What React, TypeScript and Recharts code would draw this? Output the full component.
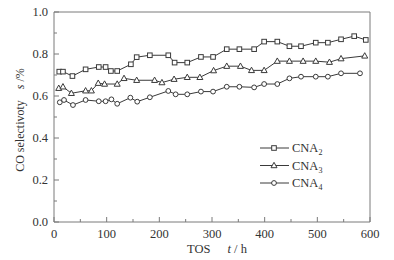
import React from 'react'
import { LineChart, Line, XAxis, YAxis, ReferenceLine } from "recharts";

// time on stream (h) and CO selectivity for each catalyst
const tosCNA2 = [10, 17, 35, 60, 85, 98, 108, 120, 146, 157, 182, 217, 229, 253, 279, 302, 328, 352, 380, 399, 424, 447, 469, 497, 520, 545, 570, 592];
const selCNA2 = [0.716, 0.716, 0.695, 0.727, 0.738, 0.738, 0.719, 0.719, 0.751, 0.785, 0.794, 0.794, 0.759, 0.759, 0.786, 0.786, 0.823, 0.823, 0.823, 0.859, 0.859, 0.837, 0.837, 0.854, 0.854, 0.870, 0.885, 0.867];

const tosCNA3 = [9, 17, 33, 60, 71, 84, 96, 120, 133, 157, 191, 205, 228, 253, 277, 303, 328, 354, 375, 399, 424, 447, 473, 497, 523, 545, 590];
const selCNA3 = [0.637, 0.644, 0.613, 0.625, 0.625, 0.661, 0.657, 0.657, 0.684, 0.675, 0.675, 0.664, 0.680, 0.689, 0.689, 0.721, 0.742, 0.742, 0.722, 0.722, 0.766, 0.766, 0.766, 0.766, 0.761, 0.778, 0.791];

const tosCNA4 = [11, 19, 36, 60, 85, 98, 109, 120, 145, 158, 182, 217, 231, 253, 279, 302, 328, 352, 380, 399, 424, 447, 469, 497, 520, 545, 581];
const selCNA4 = [0.570, 0.581, 0.557, 0.581, 0.575, 0.575, 0.584, 0.563, 0.592, 0.573, 0.594, 0.624, 0.608, 0.608, 0.621, 0.621, 0.644, 0.644, 0.641, 0.657, 0.657, 0.684, 0.692, 0.692, 0.692, 0.708, 0.708];

const xTicks = [0, 50, 100, 150, 200, 250, 300, 350, 400, 450, 500, 550, 600];
const yTicks = [0, 0.1, 0.2, 0.3, 0.4, 0.5, 0.6, 0.7, 0.8, 0.9, 1.0];

const FONT = "'Liberation Serif', 'Times New Roman', serif";
const AXIS = "#7a7a7a";
const INK = "#3a3a3a";
const TEXT = "#333";

const toRows = (tos: number[], sel: number[]) => tos.map((t, i) => ({ t, s: sel[i] }));

type MarkerKind = "square" | "triangle" | "circle";

function Marker({ cx, cy, kind }: { cx: number; cy: number; kind: MarkerKind }) {
    if (cx == null || cy == null) return null;
    if (kind === "square")
        return <rect x={cx - 2.3} y={cy - 2.3} width={4.6} height={4.6} fill="#fff" stroke={INK} strokeWidth={1} />;
    if (kind === "triangle")
        return <polygon points={`${cx},${cy - 3.2} ${cx - 3},${cy + 2.2} ${cx + 3},${cy + 2.2}`} fill="#fff" stroke={INK} strokeWidth={1} />;
    return <circle cx={cx} cy={cy} r={2.4} fill="#fff" stroke={INK} strokeWidth={1} />;
}

const series = [
    { name: "CNA", sub: "2", kind: "square" as MarkerKind, data: toRows(tosCNA2, selCNA2) },
    { name: "CNA", sub: "3", kind: "triangle" as MarkerKind, data: toRows(tosCNA3, selCNA3) },
    { name: "CNA", sub: "4", kind: "circle" as MarkerKind, data: toRows(tosCNA4, selCNA4) },
];

function XTick({ x, y, payload }: any) {
    const major = payload.value % 100 === 0;
    return (
        <g>
            <line x1={x} y1={y} x2={x} y2={y - (major ? 5 : 3)} stroke={AXIS} />
            {major && (
                <text x={x} y={y + 16} textAnchor="middle" fontSize={12.5} fontFamily={FONT} fill={TEXT}>
                    {payload.value}
                </text>
            )}
        </g>
    );
}

function YTick({ x, y, payload }: any) {
    const major = Math.round(payload.value * 10) % 2 === 0;
    return (
        <g>
            <line x1={x} y1={y} x2={x + (major ? 5 : 3)} y2={y} stroke={AXIS} />
            {major && (
                <text x={x - 6} y={y + 4} textAnchor="end" fontSize={12.5} fontFamily={FONT} fill={TEXT}>
                    {payload.value.toFixed(1)}
                </text>
            )}
        </g>
    );
}

function LegendBox() {
    return (
        <svg width={90} height={60} style={{ position: "absolute", left: 258, top: 141 }}>
            {series.map((s, i) => {
                const y = 7 + i * 17.5;
                return (
                    <g key={s.sub}>
                        <line x1={2} y1={y} x2={31} y2={y} stroke={INK} />
                        <Marker cx={16} cy={y} kind={s.kind} />
                        <text x={34} y={y + 4} fontSize={12.5} fontFamily={FONT} fill={TEXT}>
                            {s.name}
                            <tspan fontSize={8} dy={3}>{s.sub}</tspan>
                        </text>
                    </g>
                );
            })}
        </svg>
    );
}

export default function App() {
    return (
        <div style={{ position: "absolute", left: 0, top: 0, width: 394, height: 260, background: "#fff" }}>
            <LineChart width={394} height={260} margin={{ top: 12, right: 24, left: 10, bottom: 18 }}>
                <XAxis
                    dataKey="t"
                    type="number"
                    domain={[0, 600]}
                    ticks={xTicks}
                    interval={0}
                    height={20}
                    tickSize={0}
                    tickMargin={0}
                    tickLine={false}
                    stroke={AXIS}
                    tick={<XTick />}
                    allowDuplicatedCategory={false}
                    label={{
                        content: () => (
                            <text x={217} y={253} textAnchor="middle" fontSize={12.5} fontFamily={FONT} fill={TEXT}>
                                TOS
                                <tspan dx={17} fontStyle="italic">t</tspan>
                                <tspan> / h</tspan>
                            </text>
                        ),
                    }}
                />
                <YAxis
                    type="number"
                    domain={[0, 1]}
                    ticks={yTicks}
                    interval={0}
                    width={44}
                    tickSize={0}
                    tickMargin={0}
                    tickLine={false}
                    stroke={AXIS}
                    tick={<YTick />}
                    label={{
                        content: () => (
                            <text x={21} y={120} transform="rotate(-90 21 120)" textAnchor="middle" dominantBaseline="middle" fontSize={12} fontFamily={FONT} fill={TEXT}>
                                CO selectivoty
                                <tspan dx={11} fontStyle="italic">s</tspan>
                                <tspan> /%</tspan>
                            </text>
                        ),
                    }}
                />
                <ReferenceLine y={1} stroke={AXIS} />
                <ReferenceLine x={600} stroke={AXIS} />
                {series.map((s) => (
                    <Line
                        key={s.sub}
                        data={s.data}
                        dataKey="s"
                        name={s.name + s.sub}
                        stroke={INK}
                        strokeWidth={1}
                        dot={(p: any) => <Marker key={p.index} cx={p.cx} cy={p.cy} kind={s.kind} />}
                        activeDot={false}
                        isAnimationActive={false}
                    />
                ))}
            </LineChart>
            <LegendBox />
        </div>
    );
}
